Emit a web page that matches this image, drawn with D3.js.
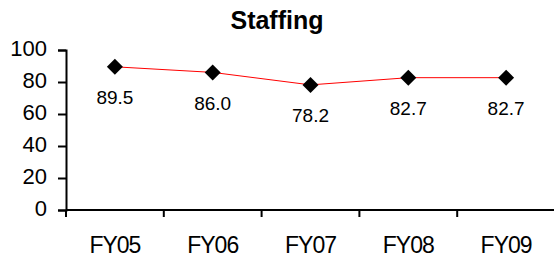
<!DOCTYPE html>
<html>
<head>
<meta charset="utf-8">
<script src="https://cdn.jsdelivr.net/npm/d3@7"></script>
<style>
  body { margin: 0; background: #fff; }
  text { font-family: "Liberation Sans", Arial, sans-serif; fill: #000; }
</style>
</head>
<body>
<script>
// chart data
var years = ["FY05", "FY06", "FY07", "FY08", "FY09"];
var staffing = [89.5, 86.0, 78.2, 82.7, 82.7];
var yTicks = [0, 20, 40, 60, 80, 100];

var W = 554, H = 259;
var mLeft = 66, mRight = 555, mTop = 50, mBottom = 210;

var svg = d3.select("body").append("svg")
  .attr("width", W)
  .attr("height", H);

var x = d3.scaleBand().domain(years).range([mLeft, mRight]);
var y = d3.scaleLinear().domain([0, 100]).range([mBottom, mTop]);

// title
svg.append("text")
  .attr("x", 277)
  .attr("y", 29)
  .attr("text-anchor", "middle")
  .style("font-weight", "bold")
  .style("font-size", "25px")
  .text("Staffing");

// y axis
var yAxis = svg.append("g")
  .attr("transform", "translate(" + mLeft + ",0)")
  .call(d3.axisLeft(y).tickValues(yTicks).tickSize(8).tickPadding(11));
yAxis.select(".domain").attr("stroke", "#000").attr("stroke-width", 2);
yAxis.selectAll(".tick line").attr("stroke", "#000").attr("stroke-width", 2);
yAxis.selectAll(".tick text")
  .attr("font-family", null)
  .attr("font-size", null)
  .attr("dy", "0.26em")
  .style("font-size", "22px");

// x axis, ticks between categories
var xAxis = svg.append("g")
  .attr("transform", "translate(0," + mBottom + ")");
xAxis.append("line")
  .attr("x1", mLeft).attr("x2", mRight)
  .attr("y1", 0).attr("y2", 0)
  .attr("stroke", "#000").attr("stroke-width", 2);
xAxis.selectAll(".tk")
  .data(years)
  .enter()
  .append("line")
  .attr("class", "tk")
  .attr("x1", function(d) { return x(d); })
  .attr("x2", function(d) { return x(d); })
  .attr("y1", 0).attr("y2", 7)
  .attr("stroke", "#000").attr("stroke-width", 2);
xAxis.selectAll(".lbl")
  .data(years)
  .enter()
  .append("text")
  .attr("class", "lbl")
  .attr("x", function(d) { return x(d) + x.bandwidth() / 2; })
  .attr("y", 43)
  .attr("text-anchor", "middle")
  .style("font-size", "23px")
  .style("letter-spacing", "-1px")
  .text(function(d) { return d; });

// line
var line = d3.line()
  .x(function(d, i) { return x(years[i]) + x.bandwidth() / 2; })
  .y(function(d) { return y(d); });

svg.append("path")
  .datum(staffing)
  .attr("d", line)
  .attr("fill", "none")
  .attr("stroke", "#ff0000")
  .attr("stroke-width", 1);

// diamond markers
svg.selectAll(".mk")
  .data(staffing)
  .enter()
  .append("path")
  .attr("class", "mk")
  .attr("d", "M0,-8L8,0L0,8L-8,0Z")
  .attr("transform", function(d, i) {
    return "translate(" + (x(years[i]) + x.bandwidth() / 2) + "," + y(d) + ")";
  })
  .attr("fill", "#000");

// value labels
svg.selectAll(".val")
  .data(staffing)
  .enter()
  .append("text")
  .attr("class", "val")
  .attr("x", function(d, i) { return x(years[i]) + x.bandwidth() / 2; })
  .attr("y", function(d) { return y(d) + 37.5; })
  .attr("text-anchor", "middle")
  .style("font-size", "19px")
  .text(function(d) { return d.toFixed(1); });
</script>
</body>
</html>
